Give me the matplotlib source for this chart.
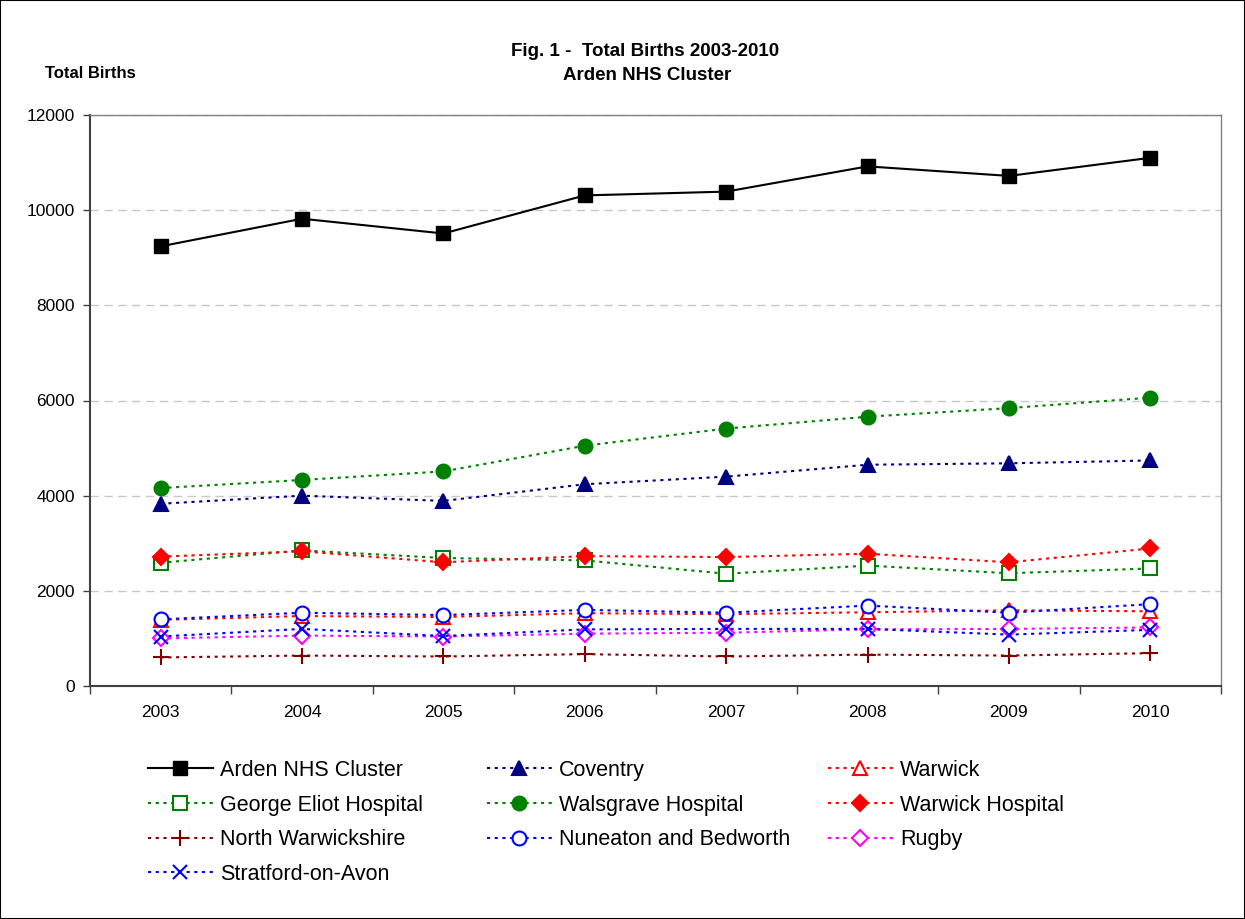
import matplotlib
matplotlib.use("Agg")
import matplotlib.pyplot as plt
from matplotlib.patches import Rectangle
from matplotlib.ticker import MultipleLocator

plt.rcParams['font.family'] = ['Liberation Sans', 'DejaVu Sans']

# data
years = ['2003', '2004', '2005', '2006', '2007', '2008', '2009', '2010']
arden = [9240, 9820, 9510, 10310, 10390, 10920, 10720, 11100]
coventry = [3830, 4000, 3890, 4240, 4400, 4650, 4680, 4740]
warwick = [1390, 1470, 1450, 1530, 1510, 1550, 1590, 1570]
george_eliot = [2590, 2850, 2690, 2640, 2360, 2530, 2370, 2470]
walsgrave = [4160, 4330, 4510, 5050, 5410, 5660, 5840, 6060]
warwick_hosp = [2720, 2830, 2600, 2730, 2710, 2780, 2600, 2890]
north_warks = [600, 640, 620, 670, 620, 660, 640, 690]
nuneaton = [1400, 1540, 1490, 1600, 1540, 1690, 1540, 1720]
rugby = [1000, 1060, 1040, 1100, 1120, 1190, 1200, 1230]
stratford = [1040, 1200, 1050, 1190, 1200, 1200, 1080, 1180]

W, H = 1245, 919
fig = plt.figure(figsize=(W / 100, H / 100), dpi=100)
ax = fig.add_axes([90 / W, 1 - 686 / H, (1221 - 90) / W, (686 - 115) / H])

x = range(len(years))
dots = (1.5, 2.2)

def dotted(vals, color, marker, label, filled=True, ms=9):
    face = color if filled else 'white'
    line, = ax.plot(x, vals, color=color, lw=1.5, dashes=dots, marker=marker,
                    markersize=ms, markerfacecolor=face, markeredgecolor=color,
                    markeredgewidth=1.5, label=label, clip_on=False)
    return line

h = {}
h['arden'], = ax.plot(x, arden, color='black', lw=1.5, marker='s', markersize=10,
                      label='Arden NHS Cluster', clip_on=False)
h['coventry'] = dotted(coventry, '#000080', '^', 'Coventry', ms=10.5)
h['warwick'] = dotted(warwick, '#FF0000', '^', 'Warwick', filled=False, ms=10.5)
h['george'] = dotted(george_eliot, '#008000', 's', 'George Eliot Hospital', filled=False, ms=10)
h['walsgrave'] = dotted(walsgrave, '#008000', 'o', 'Walsgrave Hospital', ms=10)
h['whosp'] = dotted(warwick_hosp, '#FF0000', 'D', 'Warwick Hospital', ms=8.5)
h['north'] = dotted(north_warks, '#800000', '+', 'North Warwickshire', ms=12)
h['nuneaton'] = dotted(nuneaton, '#0000FF', 'o', 'Nuneaton and Bedworth', filled=False, ms=10)
h['rugby'] = dotted(rugby, '#FF00FF', 'D', 'Rugby', filled=False, ms=8.5)
h['stratford'] = dotted(stratford, '#0000FF', 'x', 'Stratford-on-Avon', ms=10)

ax.set_xlim(-0.5, len(years) - 0.5)
ax.set_ylim(0, 12000)
ax.yaxis.set_major_locator(MultipleLocator(2000))
ax.set_xticks(list(x))
ax.set_xticklabels(years)
ax.set_xticks([i - 0.5 for i in range(len(years) + 1)], minor=True)
ax.tick_params(axis='x', which='major', length=0, pad=14, labelsize=12.5)
ax.tick_params(axis='x', which='minor', length=6, width=1, color='#404040', direction='out')
ax.tick_params(axis='y', length=5, width=1, color='#404040', pad=6, labelsize=12.5)

ax.grid(axis='y', color='#C8C8C8', lw=1, dashes=(6, 4))
ax.set_axisbelow(True)
for s in ['left', 'bottom']:
    ax.spines[s].set_color('#404040')
    ax.spines[s].set_linewidth(1.5)
for s in ['top', 'right']:
    ax.spines[s].set_color('#808080')
    ax.spines[s].set_linewidth(1)

fig.text(645 / W, 1 - 52 / H, 'Fig. 1 -  Total Births 2003-2010', ha='center', va='center',
         fontsize=13.5, fontweight='bold')
fig.text(647 / W, 1 - 76 / H, 'Arden NHS Cluster', ha='center', va='center',
         fontsize=13.5, fontweight='bold')
fig.text(45 / W, 1 - 74 / H, 'Total Births', ha='left', va='center',
         fontsize=12, fontweight='bold')

# legend in three columns, filled row by row
cols = [['arden', 'george', 'north', 'stratford'],
        ['coventry', 'walsgrave', 'nuneaton'],
        ['warwick', 'whosp', 'rugby']]
col_x = [148, 487, 828]
for keys, cx in zip(cols, col_x):
    hs = [h[k] for k in keys]
    leg = fig.legend(hs, [l.get_label() for l in hs], loc='upper left',
                     bbox_to_anchor=(cx / W, 1 - 760 / H), frameon=False,
                     fontsize=15.5, handlelength=3.0, handletextpad=0.35,
                     borderpad=0, borderaxespad=0, labelspacing=0.63)

fig.add_artist(Rectangle((0, 0), 1, 1, transform=fig.transFigure, fill=False,
                         edgecolor='black', lw=1.5))

fig.savefig('out.png', dpi=100)
